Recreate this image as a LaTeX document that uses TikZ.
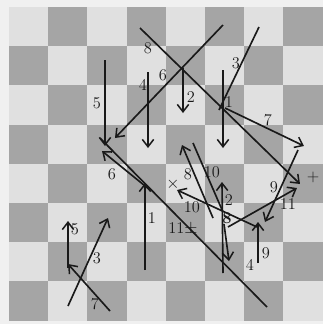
\documentclass[tikz,border=0pt]{standalone}
\usepackage{tikz}
\usetikzlibrary{arrows.meta}
\definecolor{paper}{RGB}{240,240,240}
\definecolor{boardlight}{RGB}{224,224,224}
\definecolor{boarddark}{RGB}{165,165,165}
\definecolor{pencil}{RGB}{25,25,25}

\begin{document}
\begin{tikzpicture}[x=0.3mm, y=-0.3mm,
    move/.style={line width=1.4pt, draw=pencil, -{Straight Barb[length=2.2mm, width=3.4mm, line width=1.3pt]}},
    trace/.style={line width=1.4pt, draw=pencil},
    lbl/.style={font=\fontsize{14}{14}\selectfont, text=pencil, inner sep=0pt}]
        % board
        \fill[paper] (0,0) rectangle (323,324);
        \useasboundingbox (0,0) rectangle (323,324);
        \fill[boardlight] (9,7) rectangle (322.6,320.6);
        \foreach \i in {0,...,7}{
          \foreach \j in {0,...,7}{
            \pgfmathtruncatemacro\odd{mod(\i+\j,2)}
            \ifnum\odd=1
              \fill[boarddark] ({9+39.2*\i},{7+39.2*\j}) rectangle +(39.2,39.2);
            \fi
          }
        }
        % upper moves
        \draw[move] (105,60) -- (105,146);
        \draw[move] (148,72) -- (148,148);
        \draw[move] (223,25) -- (115,138);
        \draw[move] (140,28) -- (300,184);
        \draw[move] (183,68) -- (183,113);
        \draw[move] (223,70) -- (223,148);
        \draw[trace] (259,27) -- (219,110);
        \draw[move] (225,108) -- (304,146);
        % middle moves
        \draw[trace] (100,138) -- (267,307);
        \draw[move] (150,190) -- (102,151);
        \draw[move] (145,270) -- (145,183);
        \draw[move] (213,218) -- (182,145);
        \draw[trace] (193,143) -- (223,212);
        \draw[move] (223,273) -- (222,182);
        \draw[move] (224,224) -- (229,261);
        \draw[move] (257,227) -- (177,190);
        \draw[move] (228,227) -- (297,188);
        \draw[move] (298,150) -- (265,222);
        \draw[move] (258,263) -- (258,222);
        % lower left moves
        \draw[move] (68,268) -- (68,221);
        \draw[move] (68,306) -- (108,218);
        \draw[move] (110,311) -- (68,264);
        % numbers
        \node[lbl] (n5a) at (97,103) {5};
        \node[lbl] (n4a) at (143,85) {4};
        \node[lbl] (n6a) at (163,75) {6};
        \node[lbl] (n8a) at (148,48) {8};
        \node[lbl] (n2a) at (191,97) {2};
        \node[lbl] (n3a) at (236,63) {3};
        \node[lbl] (n1a) at (229,102) {1};
        \node[lbl] (n7a) at (268,120) {7};
        \node[lbl] (plus) at (313,177) {+};
        \node[lbl] (n6b) at (112,174) {6};
        \node[lbl] (n1b) at (152,218) {1};
        \node[lbl] (n8b) at (188,174) {8};
        \node[lbl] (n10a) at (212,172) {10};
        \node[lbl] (cross) at (173,184) {$\times$};
        \node[lbl] (n10b) at (192,207) {10};
        \node[lbl] (n2b) at (229,200) {2};
        \node[lbl, font=\fontsize{14}{14}\selectfont\bfseries] (n8c) at (227,218) {8};
        \node[lbl] (n11a) at (183,229) {11$\pm$};
        \node[lbl] (n9a) at (274,187) {9};
        \node[lbl] (n11b) at (288,204) {11};
        \node[lbl] (n9b) at (266,253) {9};
        \node[lbl] (n4b) at (250,265) {4};
        \node[lbl] (n5b) at (75,229) {5};
        \node[lbl] (n3b) at (97,258) {3};
        \node[lbl] (n7b) at (95,304) {7};
      \end{tikzpicture}
\end{document}
